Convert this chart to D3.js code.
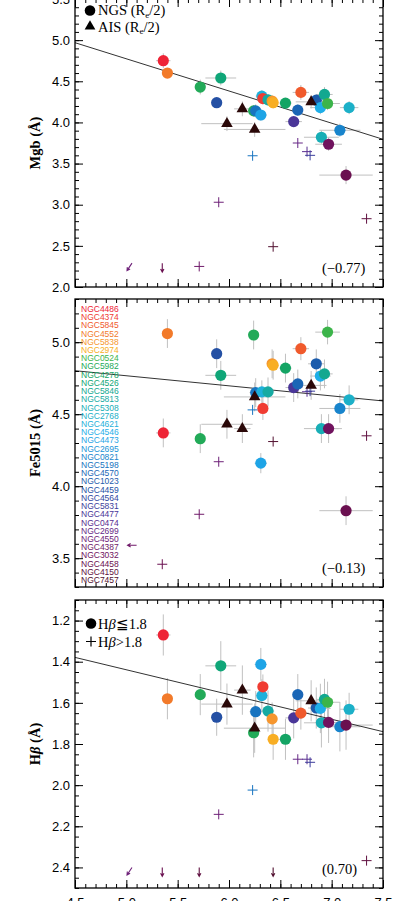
<!DOCTYPE html>
<html>
<head>
<meta charset="utf-8">
<script src="https://cdn.jsdelivr.net/npm/d3@7"></script>
<style>
  body { margin: 0; background: #fff; }
  svg { display: block; }
</style>
</head>
<body>
<div id="chart"></div>
<script>
// galaxy names shown in the middle panel, with their colours
const names = ['NGC4486','NGC4374','NGC5845','NGC4552','NGC5838','NGC2974','NGC0524','NGC5982',
  'NGC4278','NGC4526','NGC5846','NGC5813','NGC5308','NGC2768','NGC4621','NGC4546','NGC4473',
  'NGC2695','NGC0821','NGC5198','NGC4570','NGC1023','NGC4459','NGC4564','NGC5831','NGC4477',
  'NGC0474','NGC2699','NGC4550','NGC4387','NGC3032','NGC4458','NGC4150','NGC7457'];
const nameColors = ['#ee2436','#f03c32','#f05a2c','#f27a2a','#f6962e','#f8ae24','#3cb44a','#22aa58',
  '#14a464','#10a678','#12a890','#16aaa2','#18aeb6','#1cb0c8','#1eb0da','#1eaee8','#1ea4e6',
  '#1894d8','#1884cc','#1874c0','#1a66b6','#1c5cac','#2450a4','#30469e','#3c3e9c','#4a3698',
  '#582e90','#662886','#6e2078','#701a6a','#70125e','#6a1050','#601040','#521030'];

// NGS circles (Hbeta <= 1.8)
const ngsX    = [5.36,5.40,5.72,5.92,5.88,6.24,6.26,6.31,6.32,6.33,6.38,6.42,6.43,6.55,6.63,6.67,6.70,6.85,6.89,6.93,6.96,6.90,6.97,7.08,7.17,7.14];
const ngsCol  = [0,3,7,9,22,7,19,16,14,1,11,4,5,8,25,20,2,21,15,10,6,12,30,18,13,31];
const ngsXErr = [0.07,0.04,0.04,0.15,0.05,0.05,0.06,0.06,0.06,0.05,0.06,0.05,0.05,0.06,0.08,0.05,0.08,0.08,0.10,0.08,0.12,0.17,0.13,0.20,0.09,0.26];
const ngsMgb    = [4.75,4.60,4.43,4.54,4.24,4.14,4.14,4.09,4.32,4.29,4.275,4.26,4.24,4.235,4.01,4.15,4.365,4.27,4.18,4.34,4.23,3.82,3.735,3.905,4.18,3.36];
const ngsMgbErr = [0.09,0.06,0.09,0.09,0.06,0.07,0.08,0.07,0.07,0.07,0.07,0.07,0.07,0.06,0.06,0.07,0.09,0.07,0.08,0.09,0.08,0.08,0.08,0.08,0.08,0.11];
const ngsFe     = [4.37,5.06,4.33,4.77,4.92,5.05,4.65,4.16,4.655,4.54,4.655,4.85,4.84,4.82,4.685,4.71,4.955,4.85,4.765,4.78,5.07,4.40,4.40,4.54,4.60,3.83];
const ngsFeErr  = [0.10,0.10,0.10,0.10,0.10,0.10,0.10,0.07,0.08,0.08,0.10,0.10,0.10,0.10,0.10,0.10,0.08,0.10,0.10,0.10,0.085,0.10,0.10,0.10,0.10,0.10];
const ngsHb     = [1.27,1.58,1.56,1.42,1.67,1.745,1.643,1.413,1.565,1.522,1.64,1.678,1.777,1.777,1.673,1.56,1.65,1.625,1.627,1.583,1.597,1.697,1.695,1.716,1.631,1.708];
const ngsHbErr  = [0.10,0.10,0.10,0.12,0.09,0.12,0.10,0.08,0.08,0.06,0.10,0.08,0.10,0.10,0.10,0.10,0.08,0.10,0.12,0.10,0.10,0.12,0.10,0.12,0.08,0.12];

// AIS triangles
const aisX      = [5.98,6.13,6.25,6.80];
const aisXErr   = [0.25,0.08,0.30,0.15];
const aisMgb    = [3.985,4.165,3.915,4.25];
const aisMgbErr = [0.09,0.09,0.09,0.08];
const aisFe     = [4.43,4.40,4.62,4.70];
const aisFeErr  = [0.10,0.10,0.10,0.10];
const aisHb     = [1.606,1.538,1.723,1.59];
const aisHbErr  = [0.10,0.12,0.12,0.10];

// plus signs (Hbeta > 1.8); null where the panel shows a limit arrow
const hiX   = [6.67,6.76,6.79,6.23,5.90,7.34,6.43,5.71,5.35];
const hiCol = [27,26,24,19,28,32,33,29,31];
const hiMgb = [3.75,3.645,3.60,3.595,3.03,2.83,2.49,2.25,null];
const hiFe  = [4.69,4.656,4.66,4.53,4.17,4.35,4.31,3.805,3.458];
const hiHb  = [1.874,1.874,1.889,2.024,2.142,2.367,null,null,null];

// limit arrows: tail position, direction, colour index
const limMgbX = [5.055,5.35], limMgbY = [2.29,2.29], limMgbDir = ['dl','d'], limMgbCol = [28,31];
const limFeX  = [5.10],       limFeY  = [3.59],      limFeDir  = ['l'],      limFeCol  = [29];
const limHbX  = [5.055,5.35,5.71,6.43], limHbY = [2.40,2.40,2.40,2.40];
const limHbDir = ['dl','d','d','d'], limHbCol = [28,31,32,33];

// linear fits (values at the two x edges) and correlation coefficients
const fitX   = [4.5,7.5];
const fitMgb = [4.969,3.795];
const fitFe  = [4.802,4.592];
const fitHb  = [1.379,1.740];
const corrLabels = ['(\u22120.77)','(\u22120.13)','(0.70)'];

const xMajor = d3.range(4.5,7.51,0.5);

const svg = d3.select('#chart').append('svg')
  .attr('width',406)
  .attr('height',901);

const x = d3.scaleLinear().domain([4.5,7.5]).range([75,383]);

const panels = [
  {domain:[2.0,5.5], range:[287,-1], major:d3.range(2.0,5.51,0.5), minorStep:0.1,
   ngs:ngsMgb, ngsErr:ngsMgbErr, ais:aisMgb, aisErr:aisMgbErr, hi:hiMgb, fit:fitMgb,
   limX:limMgbX, limY:limMgbY, limDir:limMgbDir, limCol:limMgbCol, title:'mgb', corr:corrLabels[0]},
  {domain:[3.3,5.3], range:[587,299], major:d3.range(3.5,5.01,0.5), minorStep:0.1,
   ngs:ngsFe, ngsErr:ngsFeErr, ais:aisFe, aisErr:aisFeErr, hi:hiFe, fit:fitFe,
   limX:limFeX, limY:limFeY, limDir:limFeDir, limCol:limFeCol, title:'fe', corr:corrLabels[1]},
  {domain:[1.1,2.5], range:[600,888], major:d3.range(1.2,2.41,0.2), minorStep:0.05,
   ngs:ngsHb, ngsErr:ngsHbErr, ais:aisHb, aisErr:aisHbErr, hi:hiHb, fit:fitHb,
   limX:limHbX, limY:limHbY, limDir:limHbDir, limCol:limHbCol, title:'hb', corr:corrLabels[2]}
];

const errColor = '#c0c0c0';
const serif = "'Liberation Serif', 'DejaVu Serif', serif";
const sans = "'Liberation Sans', Arial, sans-serif";

function styleAxis(sel){
  sel.select('.domain').remove();
  sel.selectAll('.tick line').attr('stroke','#000').attr('stroke-width',1);
  sel.selectAll('.tick text').attr('font-family',sans).attr('font-size',13).attr('fill','#000');
}

function arrowPath(x0,y0,dir){
  const v = {d:[0,1], l:[-1,0], dl:[-0.55,0.835]}[dir];
  const len = 9, hl = 3.5;
  const x1 = x0 + v[0]*len, y1 = y0 + v[1]*len;
  const a = Math.atan2(v[1],v[0]);
  const h1 = [x1 - hl*Math.cos(a-0.5), y1 - hl*Math.sin(a-0.5)];
  const h2 = [x1 - hl*Math.cos(a+0.5), y1 - hl*Math.sin(a+0.5)];
  return `M${x0},${y0}L${x1},${y1}M${h1[0]},${h1[1]}L${x1},${y1}L${h2[0]},${h2[1]}`;
}

panels.forEach((p,pi) => {
  const y = d3.scaleLinear().domain(p.domain).range(p.range);
  const top = Math.min(...p.range), bottom = Math.max(...p.range);
  const g = svg.append('g');

  // error bars
  const eb = g.append('g').attr('stroke',errColor).attr('stroke-width',1);
  ngsX.forEach((xv,i) => {
    eb.append('line').attr('x1',x(xv-ngsXErr[i])).attr('x2',x(xv+ngsXErr[i]))
      .attr('y1',y(p.ngs[i])).attr('y2',y(p.ngs[i]));
    eb.append('line').attr('x1',x(xv)).attr('x2',x(xv))
      .attr('y1',y(p.ngs[i]-p.ngsErr[i])).attr('y2',y(p.ngs[i]+p.ngsErr[i]));
  });
  aisX.forEach((xv,i) => {
    eb.append('line').attr('x1',x(xv-aisXErr[i])).attr('x2',x(xv+aisXErr[i]))
      .attr('y1',y(p.ais[i])).attr('y2',y(p.ais[i]));
    eb.append('line').attr('x1',x(xv)).attr('x2',x(xv))
      .attr('y1',y(p.ais[i]-p.aisErr[i])).attr('y2',y(p.ais[i]+p.aisErr[i]));
  });

  // fit line
  g.append('line')
    .attr('x1',x(fitX[0])).attr('y1',y(p.fit[0]))
    .attr('x2',x(fitX[1])).attr('y2',y(p.fit[1]))
    .attr('stroke','#333').attr('stroke-width',1);

  // plus signs
  hiX.forEach((xv,i) => {
    if (p.hi[i] == null) return;
    const cx = x(xv), cy = y(p.hi[i]);
    g.append('path')
      .attr('d',`M${cx-5},${cy}H${cx+5}M${cx},${cy-5}V${cy+5}`)
      .attr('stroke',nameColors[hiCol[i]]).attr('stroke-width',1).attr('fill','none');
  });

  // limit arrows
  p.limX.forEach((xv,i) => {
    g.append('path')
      .attr('d',arrowPath(x(xv),y(p.limY[i]),p.limDir[i]))
      .attr('stroke',nameColors[p.limCol[i]]).attr('stroke-width',1.1).attr('fill','none');
  });

  // NGS circles
  g.selectAll('circle.ngs')
    .data(ngsX)
    .join('circle')
    .attr('class','ngs')
    .attr('cx',d => x(d))
    .attr('cy',(d,i) => y(p.ngs[i]))
    .attr('r',5.6)
    .attr('fill',(d,i) => nameColors[ngsCol[i]]);

  // AIS triangles
  g.selectAll('path.ais')
    .data(aisX)
    .join('path')
    .attr('class','ais')
    .attr('d',d3.symbol(d3.symbolTriangle).size(58))
    .attr('transform',(d,i) => `translate(${x(d)},${y(p.ais[i])})`)
    .attr('fill','#2a0808');

  // axes
  const left = g.append('g').attr('transform','translate(75,0)')
    .call(d3.axisLeft(y).tickValues(p.major).tickSize(-8).tickPadding(5).tickFormat(d3.format('.1f')));
  styleAxis(left);
  const minorVals = d3.range(p.domain[0], p.domain[1]+1e-6, p.minorStep);
  styleAxis(g.append('g').attr('transform','translate(75,0)')
    .call(d3.axisLeft(y).tickValues(minorVals).tickSize(-4).tickFormat('')));
  styleAxis(g.append('g').attr('transform','translate(383,0)')
    .call(d3.axisRight(y).tickValues(p.major).tickSize(-8).tickFormat('')));
  styleAxis(g.append('g').attr('transform','translate(383,0)')
    .call(d3.axisRight(y).tickValues(minorVals).tickSize(-4).tickFormat('')));
  const xMinor = d3.range(4.5,7.51,0.1);
  styleAxis(g.append('g').attr('transform',`translate(0,${top})`)
    .call(d3.axisTop(x).tickValues(xMajor).tickSize(-8).tickFormat('')));
  styleAxis(g.append('g').attr('transform',`translate(0,${top})`)
    .call(d3.axisTop(x).tickValues(xMinor).tickSize(-4).tickFormat('')));
  styleAxis(g.append('g').attr('transform',`translate(0,${bottom})`)
    .call(d3.axisBottom(x).tickValues(xMajor).tickSize(-8).tickPadding(10)
      .tickFormat(pi === 2 ? d3.format('.1f') : '')));
  styleAxis(g.append('g').attr('transform',`translate(0,${bottom})`)
    .call(d3.axisBottom(x).tickValues(xMinor).tickSize(-4).tickFormat('')));

  // frame
  g.append('rect')
    .attr('x',75).attr('y',top).attr('width',308).attr('height',bottom-top)
    .attr('fill','none').attr('stroke','#000').attr('stroke-width',1.3);

  // y title
  const mid = (top+bottom)/2;
  const t = g.append('text')
    .attr('transform',`translate(40,${mid}) rotate(-90)`)
    .attr('text-anchor','middle')
    .attr('font-family',serif).attr('font-weight','bold').attr('font-size',14.5).attr('fill','#000');
  if (p.title === 'mgb') t.text('Mgb (\u00c5)');
  if (p.title === 'fe') t.text('Fe5015 (\u00c5)');
  if (p.title === 'hb') {
    t.append('tspan').text('H');
    t.append('tspan').attr('font-style','italic').text('\u03b2');
    t.append('tspan').text(' (\u00c5)');
  }

  // correlation coefficient
  g.append('text')
    .attr('x',322).attr('y',bottom-14)
    .attr('font-family',serif).attr('font-size',14.5).attr('fill','#000')
    .text(p.corr);
});

// legend, top panel
const lg1 = svg.append('g').attr('font-family',serif).attr('font-size',14.5).attr('fill','#000');
lg1.append('circle').attr('cx',90).attr('cy',10.5).attr('r',5.3).attr('fill','#000');
const n1 = lg1.append('text').attr('x',98).attr('y',15);
n1.append('tspan').text('NGS (R');
n1.append('tspan').attr('font-size',9).attr('dy',2.5).text('e');
n1.append('tspan').attr('dy',-2.5).text('/2)');
lg1.append('path').attr('d',d3.symbol(d3.symbolTriangle).size(50))
  .attr('transform','translate(90,26.5)').attr('fill','#000');
const n2 = lg1.append('text').attr('x',98).attr('y',31.5);
n2.append('tspan').text('AIS (R');
n2.append('tspan').attr('font-size',9).attr('dy',2.5).text('e');
n2.append('tspan').attr('dy',-2.5).text('/2)');

// legend, bottom panel
const lg3 = svg.append('g').attr('font-family',serif).attr('font-size',14.5).attr('fill','#000');
lg3.append('circle').attr('cx',91).attr('cy',623.5).attr('r',5.3).attr('fill','#000');
const h1 = lg3.append('text').attr('x',98).attr('y',628.5);
h1.append('tspan').text('H');
h1.append('tspan').attr('font-style','italic').text('\u03b2');
h1.append('tspan').text('\u22661.8');
lg3.append('path').attr('d','M86,641.5H96M91,636.5V646.5').attr('stroke','#000').attr('stroke-width',1.2);
const h2 = lg3.append('text').attr('x',98).attr('y',646.5);
h2.append('tspan').text('H');
h2.append('tspan').attr('font-style','italic').text('\u03b2');
h2.append('tspan').text('>1.8');

// galaxy name list, middle panel
const ly = d3.scaleLinear().domain([0,names.length-1]).range([312,583]);
svg.append('g')
  .selectAll('text')
  .data(names)
  .join('text')
  .attr('x',81)
  .attr('y',(d,i) => ly(i))
  .attr('font-family',sans)
  .attr('font-size',8.5)
  .attr('fill',(d,i) => nameColors[i])
  .text(d => d);
</script>
</body>
</html>
